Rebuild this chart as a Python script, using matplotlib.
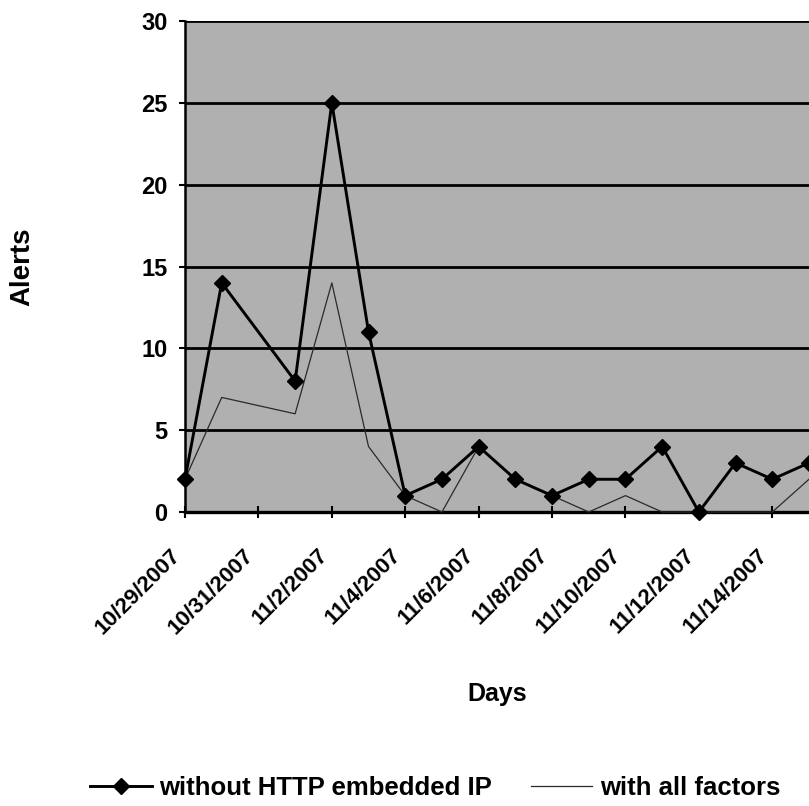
import matplotlib
matplotlib.use("Agg")
import matplotlib.pyplot as plt
import matplotlib.dates as mdates
import matplotlib.transforms as mtransforms
from datetime import date, timedelta

plt.rcParams['font.family'] = ['Liberation Sans', 'DejaVu Sans']
plt.rcParams['font.weight'] = 'bold'

# 10/31 has no measurement, the lines jump over it
days = [date(2007, 10, 29), date(2007, 10, 30), date(2007, 11, 1), date(2007, 11, 2),
        date(2007, 11, 3), date(2007, 11, 4), date(2007, 11, 5), date(2007, 11, 6),
        date(2007, 11, 7), date(2007, 11, 8), date(2007, 11, 9), date(2007, 11, 10),
        date(2007, 11, 11), date(2007, 11, 12), date(2007, 11, 13), date(2007, 11, 14),
        date(2007, 11, 15)]
without_http = [2, 14, 8, 25, 11, 1, 2, 4, 2, 1, 2, 2, 4, 0, 3, 2, 3]
all_factors = [2, 7, 6, 14, 4, 1, 0, 4, 2, 1, 0, 1, 0, 0, 0, 0, 2]
yticks = [0, 5, 10, 15, 20, 25, 30]
tick_days = [date(2007, 10, 29) + timedelta(days=2 * i) for i in range(9)]

fig = plt.figure(figsize=(8.09, 8.06), dpi=100)
ax = fig.add_axes([185 / 809, 1 - 512 / 806, (809 - 185) / 809, (512 - 21) / 806])
ax.set_facecolor('#b0b0b0')

ax.plot(days, without_http, color='black', lw=2.1, marker='D', ms=8.5,
        clip_on=False, zorder=4, label='without HTTP embedded IP')
ax.plot(days, all_factors, color='#2a2a2a', lw=0.9, clip_on=False, zorder=3,
        label='with all factors')

ax.set_xlim(mdates.date2num(date(2007, 10, 29)), mdates.date2num(date(2007, 11, 15)))
ax.set_ylim(0, 30)
ax.set_yticks(yticks)
ax.yaxis.grid(True, color='black', lw=2.0)
ax.set_axisbelow(True)

ax.set_xticks([mdates.date2num(d) for d in tick_days])
ax.set_xticklabels([f"{d.month}/{d.day}/{d.year}" for d in tick_days],
                   rotation=45, ha='right', va='top', fontsize=16)
shift = mtransforms.ScaledTranslation(-12 / 100, 0, fig.dpi_scale_trans)
for lab in ax.get_xticklabels():
    lab.set_transform(lab.get_transform() + shift)

ax.tick_params(axis='x', direction='inout', length=9, width=1.5, pad=19)
ax.tick_params(axis='y', direction='out', length=4, width=1.5, pad=8.5, labelsize=17)

for s in ['top', 'right']:
    ax.spines[s].set_visible(False)
ax.spines['left'].set_linewidth(1.8)
ax.spines['bottom'].set_linewidth(2.4)

ax.set_ylabel('Alerts', fontsize=20, fontweight='bold')
ax.yaxis.set_label_coords(-0.24, 0.5)
ax.set_xlabel('Days', fontsize=18, fontweight='bold')
ax.xaxis.set_label_coords(0.5, -0.346)

fig.legend(loc='center', bbox_to_anchor=(0.538, 1 - 788 / 806), ncol=2, frameon=False,
           fontsize=18.5, handlelength=2.4, handletextpad=0.3, columnspacing=1.5)

fig.savefig('out.png', dpi=100)
